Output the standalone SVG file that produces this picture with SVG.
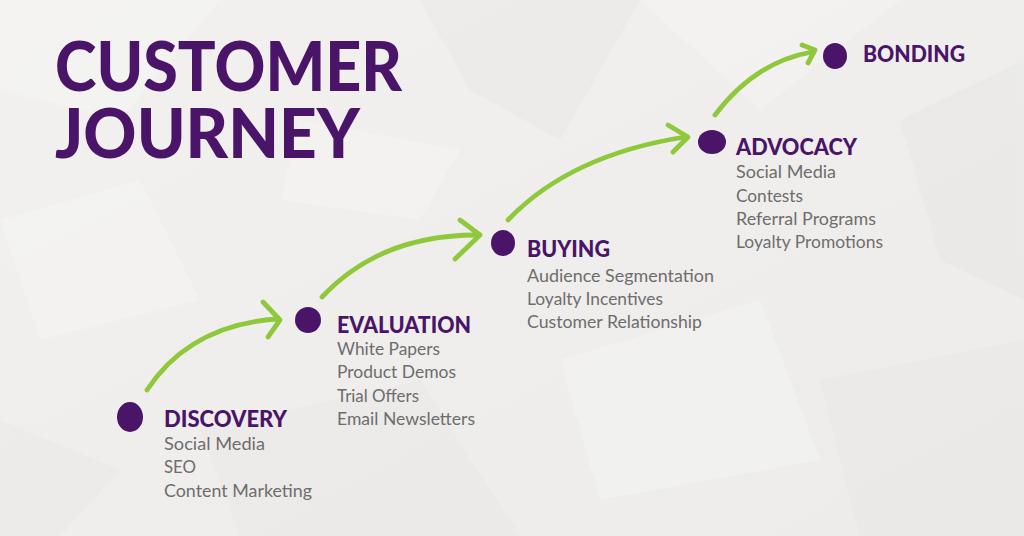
<svg xmlns="http://www.w3.org/2000/svg" width="1024" height="536" viewBox="0 0 1024 536">
<defs>
<style>
.title{font-family:"Lato","Inter","Liberation Sans",sans-serif;font-weight:900;font-size:68px;fill:#4a1468}
.head{font-family:"Lato","Inter","Liberation Sans",sans-serif;font-weight:900;font-size:22px;fill:#4a1468}
.item{font-family:"Lato","Inter","Liberation Sans",sans-serif;font-weight:400;font-size:16.5px;fill:#6e6d6d}
.dot{fill:#4a1468}
.arr{fill:none;stroke:#8fc83a;stroke-width:4.8;stroke-linecap:round;stroke-linejoin:round}
</style>
<linearGradient id="bg" x1="0" y1="0" x2="1" y2="1">
<stop offset="0" stop-color="#f2f1f0"/>
<stop offset="0.5" stop-color="#efeeec"/>
<stop offset="1" stop-color="#edecea"/>
</linearGradient>
</defs>
<rect width="1024" height="536" fill="url(#bg)"/>
<g id="paper" opacity="0.35">
<polygon points="0,0 220,0 120,120 0,90" fill="#f9f9f8"/>
<polygon points="420,0 640,0 560,140 470,90" fill="#e6e5e3"/>
<polygon points="640,0 900,0 760,110" fill="#f9f9f8"/>
<polygon points="900,120 1024,60 1024,300 940,260" fill="#e5e4e2"/>
<polygon points="0,220 140,180 200,300 40,340" fill="#f9f9f8"/>
<polygon points="200,430 420,380 520,536 240,536" fill="#e7e6e4"/>
<polygon points="560,360 760,300 820,460 600,500" fill="#f9f9f8"/>
<polygon points="820,380 1024,340 1024,536 860,536" fill="#e6e5e3"/>
<polygon points="300,120 460,150 420,220 280,200" fill="#f9f9f8"/>
<polygon points="0,420 120,470 60,536 0,536" fill="#e8e7e5"/>
</g>
<g id="title">
<text class="title" x="55" y="91" textLength="347" lengthAdjust="spacingAndGlyphs">CUSTOMER</text>
<text class="title" x="55" y="158" textLength="305" lengthAdjust="spacingAndGlyphs">JOURNEY</text>
</g>
<g id="connectors">
<path class="arr" d="M147,390 Q190,325 277,319"/>
<path class="arr" d="M263,302 L280,320 L268,337"/>
<path class="arr" d="M322,297 Q380,235 477,235"/>
<path class="arr" d="M460,220 L480,235 L455,259"/>
<path class="arr" d="M508,220 Q570,155 685,137"/>
<path class="arr" d="M668,125 L688,137 L673,152"/>
<path class="arr" d="M715,115 Q755,62 812,52"/>
<path class="arr" d="M802,45 L815,50 L808,63"/>
</g>
<g id="discovery">
<ellipse class="dot" cx="130" cy="417" rx="13" ry="15"/>
<text class="head" x="164" y="427" textLength="123" lengthAdjust="spacingAndGlyphs">DISCOVERY</text>
<text class="item" x="164" y="450" textLength="101" lengthAdjust="spacingAndGlyphs">Social Media</text>
<text class="item" x="164" y="473" textLength="32" lengthAdjust="spacingAndGlyphs">SEO</text>
<text class="item" x="164" y="497" textLength="148" lengthAdjust="spacingAndGlyphs">Content Marketing</text>
</g>
<g id="evaluation">
<ellipse class="dot" cx="308" cy="320" rx="13" ry="13"/>
<text class="head" x="337" y="333" textLength="134" lengthAdjust="spacingAndGlyphs">EVALUATION</text>
<text class="item" x="337" y="355" textLength="103" lengthAdjust="spacingAndGlyphs">White Papers</text>
<text class="item" x="337" y="378" textLength="119" lengthAdjust="spacingAndGlyphs">Product Demos</text>
<text class="item" x="337" y="402" textLength="82" lengthAdjust="spacingAndGlyphs">Trial Offers</text>
<text class="item" x="337" y="425" textLength="138" lengthAdjust="spacingAndGlyphs">Email Newsletters</text>
</g>
<g id="buying">
<ellipse class="dot" cx="503" cy="243" rx="12" ry="13"/>
<text class="head" x="527" y="257" textLength="83" lengthAdjust="spacingAndGlyphs">BUYING</text>
<text class="item" x="527" y="282" textLength="187" lengthAdjust="spacingAndGlyphs">Audience Segmentation</text>
<text class="item" x="527" y="305" textLength="136" lengthAdjust="spacingAndGlyphs">Loyalty Incentives</text>
<text class="item" x="527" y="328" textLength="175" lengthAdjust="spacingAndGlyphs">Customer Relationship</text>
</g>
<g id="advocacy">
<ellipse class="dot" cx="712" cy="142" rx="14" ry="12"/>
<text class="head" x="736" y="155" textLength="121" lengthAdjust="spacingAndGlyphs">ADVOCACY</text>
<text class="item" x="736" y="178" textLength="100" lengthAdjust="spacingAndGlyphs">Social Media</text>
<text class="item" x="736" y="202" textLength="67" lengthAdjust="spacingAndGlyphs">Contests</text>
<text class="item" x="736" y="225" textLength="140" lengthAdjust="spacingAndGlyphs">Referral Programs</text>
<text class="item" x="736" y="248" textLength="147" lengthAdjust="spacingAndGlyphs">Loyalty Promotions</text>
</g>
<g id="bonding">
<ellipse class="dot" cx="835" cy="56" rx="12" ry="13"/>
<text class="head" x="863" y="62" textLength="102" lengthAdjust="spacingAndGlyphs">BONDING</text>
</g>
</svg>
